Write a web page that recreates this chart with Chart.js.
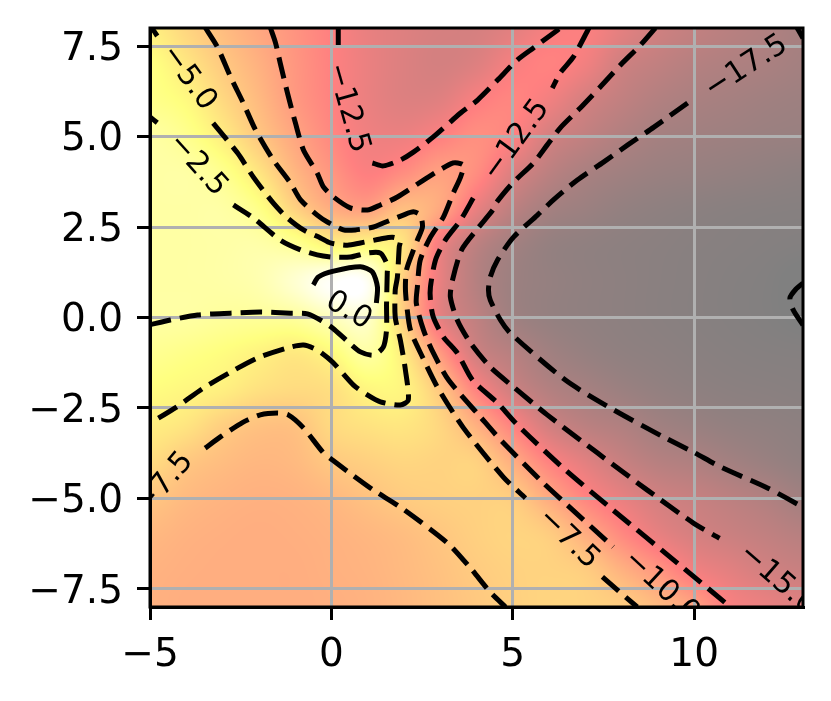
<!DOCTYPE html>
<html>
<head>
<meta charset="utf-8">
<title>Contour</title>
<script src="https://cdn.jsdelivr.net/npm/chart.js@4"></script>
<style>
  html, body { margin: 0; padding: 0; background: #fff; }
  canvas { display: block; }
</style>
</head>
<body>
<canvas id="chart" width="831" height="701"></canvas>
<script>
// axis ticks
const xTicks = [-5, 0, 5, 10];
const xTickLabels = ['−5', '0', '5', '10'];
const yTicks = [-7.5, -5, -2.5, 0, 2.5, 5, 7.5];
const yTickLabels = ['−7.5', '−5.0', '−2.5', '0.0', '2.5', '5.0', '7.5'];

// background field: rows y = 8..-8, columns x = -5..13
const fieldX = [-5, -4, -3, -2, -1, 0, 1, 2, 3, 4, 5, 6, 7, 8, 9, 10, 11, 12, 13];
const fieldY = [8, 7, 6, 5, 4, 3, 2, 1, 0, -1, -2, -3, -4, -5, -6, -7, -8];
const fieldZ = [
  [-5, -6.6, -8.2, -9.6, -10.9, -12.2, -13.5, -14.2, -14.7, -14.7, -13.9, -12.7, -12.4, -13.8, -15.1, -15.9, -16.5, -17, -17.6],
  [-3.8, -5.5, -7.4, -9, -10.7, -12.1, -13.4, -14.3, -14.8, -14.2, -12.7, -12, -13, -15.1, -16, -16.7, -17.1, -17.4, -17.8],
  [-3.5, -4.3, -6.4, -8.4, -10.5, -12, -13.4, -14.2, -14, -12.5, -11.8, -13, -14.8, -16, -16.9, -17.4, -17.7, -18, -18.2],
  [-2.45, -3.3, -5.1, -7.5, -9.7, -11.6, -13, -13.2, -12.2, -11.2, -12.2, -14.8, -16, -17, -17.7, -18, -18.2, -18.4, -18.5],
  [-2.4, -2.4, -3.3, -5.6, -8.6, -10.7, -12.3, -11.3, -10.1, -11.3, -14.3, -16.3, -17.4, -18, -18.4, -18.6, -18.8, -19, -19.2],
  [-2.4, -2.4, -2.4, -3.6, -6.8, -9.2, -10, -8.1, -9.6, -13.5, -16.2, -17.7, -18.3, -18.8, -19.1, -19.3, -19.45, -19.55, -19.6],
  [-2.4, -2.4, -2.3, -2.2, -3, -4.7, -4.4, -5.8, -13, -16.2, -17.8, -18.7, -19, -19.2, -19.35, -19.5, -19.6, -19.7, -19.8],
  [-2.4, -2.4, -2.3, -1.9, -0.5, 1.2, 0.9, -7.2, -13.5, -16.7, -18.2, -18.7, -19, -19.2, -19.4, -19.55, -19.7, -19.85, -20.2],
  [-2.45, -2.5, -2.8, -2.9, -2.7, -1.4, -0.8, -7.1, -13.6, -16.1, -18, -18.7, -19, -19.2, -19.4, -19.55, -19.7, -19.85, -20.1],
  [-3.2, -3.6, -4.1, -4.8, -5.4, -4.4, -2.5, -5.3, -10.4, -15, -16.6, -17.9, -18.6, -19, -19.2, -19.4, -19.55, -19.65, -19.7],
  [-4.1, -4.5, -5, -5.9, -6.3, -6, -4.6, -4.7, -7.6, -12, -15.1, -16.8, -17.6, -18.3, -18.8, -19.1, -19.3, -19.4, -19.5],
  [-5.1, -5.7, -7.1, -7.9, -7.9, -6.4, -5.8, -5.6, -6.6, -9, -12, -14.9, -16.3, -17, -17.9, -18.4, -18.8, -19, -19.2],
  [-6.2, -7.5, -8.2, -8.6, -8.4, -7.5, -7, -6.6, -6.8, -6.9, -9.2, -12, -13.9, -15.5, -16.6, -17.1, -17.8, -18.4, -18.9],
  [-7.6, -8.4, -8.8, -9, -8.9, -8.5, -7.9, -7.3, -7, -6.9, -7.2, -9.4, -11.8, -13.5, -14.9, -15.6, -16.3, -17, -17.9],
  [-8.5, -8.9, -9.1, -9.2, -9.1, -8.9, -8.6, -8.2, -7.6, -7, -6.7, -7.2, -9.2, -11.5, -13.5, -14.7, -15.4, -16, -16.6],
  [-8.9, -9.1, -9.2, -9.2, -9.2, -9, -8.8, -8.4, -7.9, -7.3, -6.9, -6.8, -7.2, -8.9, -10.7, -12.8, -13.9, -14.9, -15.5],
  [-9, -9.2, -9.2, -9.2, -9.2, -9.1, -8.9, -8.5, -8, -7.5, -7, -6.7, -6.8, -7.2, -8.4, -10, -12.5, -13.4, -14.2]
];

// colour scale for the field (value, r, g, b)
const colorStops = [
  [1.5, 255, 255, 255],
  [-3.96, 255, 255, 128],
  [-12.15, 255, 128, 128],
  [-20, 128, 128, 128]
];

// contour lines, [x, y] pairs, split where a label interrupts them
const level0 = [[-0.5, 0.9], [-0.36, 1.12], [0.06, 1.28], [0.8, 1.4], [1.13, 1.26], [1.27, 0.84], [1.24, 0.4]];
const level2_5a = [[-5, -0.2], [-4.44, -0.07], [-3.69, 0.07], [-2.78, 0.12], [-1.96, 0.15], [-1.13, 0.12], [-0.66, 0.1], [-0.25, -0.1], [0.03, -0.29], [0.47, -0.68], [0.8, -0.95], [1.16, -1.04], [1.43, -0.82], [1.52, -0.35], [1.52, 0.35], [1.54, 1.23], [1.54, 1.45], [1.35, 1.78], [0.99, 1.78], [0.52, 1.67], [0.03, 1.67], [-0.39, 1.73], [-0.85, 1.87], [-1.41, 2.14], [-2.15, 2.75], [-2.7, 3.11]];
const level2_5b = [[-5, 5.54], [-4.8, 5.38]];
const level5a = [[-3.26, 5.37], [-2.59, 4.55], [-2.15, 3.88], [-1.6, 3.16], [-1.21, 2.75], [-0.77, 2.42], [-0.3, 2.2], [-0.03, 2.06], [0.44, 2.0], [0.8, 2.06], [1.35, 2.17], [1.68, 2.22], [1.9, 2.14], [1.87, 1.95], [1.82, 1.12], [1.76, 0.76], [1.76, 0.01], [1.9, -0.62], [2.04, -1.45], [2.12, -2.28], [1.9, -2.42], [1.35, -2.33], [0.99, -2.14], [0.61, -1.87], [0.03, -1.23], [-0.39, -0.9], [-0.77, -0.76], [-1.21, -0.84], [-2.04, -1.12], [-2.78, -1.51], [-3.53, -1.95], [-4.26, -2.47], [-5, -2.92]];
const level5b = [[-5, 8], [-4.91, 7.94], [-4.8, 7.78]];
const level7_5a = [[-3.47, 8], [-3.14, 7.47], [-2.78, 6.65], [-2.43, 5.93], [-2.09, 5.18], [-1.6, 4.35], [-1.13, 3.72], [-0.85, 3.25], [-0.39, 2.83], [-0.11, 2.64], [0.33, 2.42], [0.66, 2.42], [1.16, 2.5], [1.43, 2.61], [1.98, 2.83], [2.26, 2.92], [2.45, 2.83], [2.51, 2.5], [2.37, 2.14], [2.23, 1.78], [2.07, 1.31], [2.04, 0.84], [2.07, 0.4], [2.18, -0.35], [2.51, -1.09], [2.92, -1.92], [3.64, -3.05], [4.74, -4.41], [5.35, -4.99]];
const level7_5b = [[7.47, -7.17], [8.43, -8]];
const level7_5c = [[-3.48, -3.61], [-3.06, -3.3], [-2.43, -2.89], [-1.96, -2.69], [-1.49, -2.64], [-1.19, -2.69], [-0.77, -3.05], [-0.22, -3.74], [0.03, -3.94], [0.47, -4.27], [1.16, -4.77], [1.9, -5.24], [3.2, -6.23], [3.83, -6.92], [4.38, -7.59], [4.8, -8]];
const level10a = [[-1.68, 8], [-1.54, 7.59], [-1.41, 7.03], [-1.21, 6.2], [-0.99, 5.37], [-0.77, 4.63], [-0.39, 3.99], [-0.22, 3.61], [0.06, 3.33], [0.52, 3.03], [0.99, 2.97], [1.35, 3.11], [1.82, 3.33], [2.67, 3.88], [3.36, 4.27], [3.64, 4.21], [3.56, 3.88], [3.36, 3.44], [3.09, 2.78], [2.73, 2.22], [2.45, 1.59], [2.37, 0.84], [2.34, 0.4], [2.54, -0.35], [2.81, -0.98], [3.23, -1.73], [4.11, -2.75], [4.66, -3.38], [5.84, -4.57], [6.5, -5.18], [7.77, -6.34]];
const level12_5a = [[0.19, 8], [0.19, 7.53]];
const level12_5b = [[1.13, 4.27], [1.43, 4.19], [1.9, 4.35], [2.26, 4.57], [2.81, 4.99], [3.56, 5.65], [4.03, 6.01], [4.58, 6.56], [5.13, 7.12], [5.57, 7.45], [6.23, 7.94], [6.31, 8]];
const level12_5c = [[7.1, 8], [6.67, 7.2], [6.31, 6.76], [6.09, 6.34]];
const level12_5d = [[3.91, 3.3], [3.56, 2.69], [3.14, 2.14], [2.87, 1.59], [2.73, 0.84], [2.73, 0.48], [2.81, 0.01], [3.09, -0.54], [3.47, -0.98], [3.89, -1.73], [4.58, -2.36], [5.13, -2.97], [6.39, -4.16], [7.69, -5.26], [9.7, -6.92], [11, -8]];
const level15 = [[8.93, 8], [8.52, 7.53], [7.97, 6.98], [7.41, 6.37], [6.86, 5.79], [6.31, 5.24], [5.95, 4.77], [5.57, 4.27], [5.0, 3.72], [4.56, 3.19], [4.45, 2.97], [4.0, 2.42], [3.59, 1.87], [3.34, 1.04], [3.28, 0.57], [3.47, -0.07], [3.83, -0.7], [4.38, -1.37], [5.02, -1.92], [5.95, -2.69], [7.33, -3.74], [8.71, -4.77], [9.98, -5.68], [10.7, -6.1]];
const level17_5a = [[9.82, 5.93], [8.89, 5.26], [8.17, 4.77], [7.51, 4.3], [6.78, 3.8], [6.12, 3.25], [5.68, 2.83], [5.02, 2.22], [4.58, 1.59], [4.38, 1.12], [4.33, 0.76], [4.38, 0.48], [4.66, -0.07], [4.93, -0.43], [6.45, -1.73], [7.69, -2.5], [9.15, -3.3], [9.98, -3.72], [10.73, -4.13], [12.02, -4.71], [13, -5.24]];
const level17_5b = [[12.84, 8], [13, 7.72]];
const level20 = [[13, 0.95], [12.81, 0.79], [12.64, 0.54], [12.73, 0.21], [13, -0.21]];

const dashedLines = [level2_5a, level2_5b, level5a, level5b, level7_5a, level7_5b, level7_5c, level10a,
  level12_5a, level12_5b, level12_5c, level12_5d, level15, level17_5a, level17_5b, level20];
const solidLines = [level0];

// contour labels
const labelTexts = ['−5.0', '−2.5', '−12.5', '−12.5', '0.0', '−7.5', '−10.0', '−17.5', '−15.0', '−7.5'];
const labelX = [-3.94, -3.69, 0.44, 5.1, 0.47, 6.53, 9.09, 11.44, 12.29, -4.6];
const labelY = [6.62, 4.21, 5.79, 4.9, 0.18, -6.12, -7.44, 6.92, -7.25, -4.6];
const labelAngles = [54, 48, 74, -54, 30, 44, 43, -33, 41, -50];

function fieldColor(z) {
  if (z >= colorStops[0][0]) return colorStops[0].slice(1);
  for (let i = 1; i < colorStops.length; i++) {
    const a = colorStops[i - 1], b = colorStops[i];
    if (z >= b[0]) {
      const t = (a[0] - z) / (a[0] - b[0]);
      return [a[1] + (b[1] - a[1]) * t, a[2] + (b[2] - a[2]) * t, a[3] + (b[3] - a[3]) * t];
    }
  }
  return colorStops[colorStops.length - 1].slice(1);
}

function cubic(a, b, c, d, t) {
  return b + 0.5 * t * (c - a + t * (2 * a - 5 * b + 4 * c - d + t * (3 * (b - c) + d - a)));
}

// smooth lookup between the read values, the same job imshow's interpolation does
function fieldAt(x, y) {
  const c = Math.min(Math.max(x - fieldX[0], 0), fieldX.length - 1.001);
  const r = Math.min(Math.max(fieldY[0] - y, 0), fieldY.length - 1.001);
  const c0 = Math.floor(c), r0 = Math.floor(r);
  const rows = [];
  for (let j = r0 - 1; j <= r0 + 2; j++) {
    const row = fieldZ[Math.min(Math.max(j, 0), fieldY.length - 1)];
    const at = i => row[Math.min(Math.max(i, 0), fieldX.length - 1)];
    rows.push(cubic(at(c0 - 1), at(c0), at(c0 + 1), at(c0 + 2), c - c0));
  }
  return cubic(rows[0], rows[1], rows[2], rows[3], r - r0);
}

// image under the grid lines, like imshow
const heatmapPlugin = {
  id: 'heatmap',
  beforeDraw(chart) {
    const area = chart.chartArea, ctx = chart.ctx;
    const left = Math.round(area.left), top = Math.round(area.top);
    const w = Math.round(area.right) - left, h = Math.round(area.bottom) - top;
    const img = ctx.createImageData(w, h);
    for (let j = 0; j < h; j++) {
      const y = chart.scales.y.getValueForPixel(top + j + 0.5);
      for (let i = 0; i < w; i++) {
        const x = chart.scales.x.getValueForPixel(left + i + 0.5);
        const col = fieldColor(fieldAt(x, y));
        const k = (j * w + i) * 4;
        img.data[k] = col[0];
        img.data[k + 1] = col[1];
        img.data[k + 2] = col[2];
        img.data[k + 3] = 255;
      }
    }
    ctx.putImageData(img, left, top);
  }
};

// contour labels and the box around the axes
const overlayPlugin = {
  id: 'overlay',
  afterDatasetsDraw(chart) {
    const area = chart.chartArea, ctx = chart.ctx;
    ctx.save();
    ctx.beginPath();
    ctx.rect(area.left, area.top, area.right - area.left, area.bottom - area.top);
    ctx.clip();
    ctx.fillStyle = '#000';
    ctx.font = '30px "DejaVu Sans"';
    ctx.textAlign = 'center';
    ctx.textBaseline = 'middle';
    labelTexts.forEach((text, i) => {
      ctx.save();
      ctx.translate(chart.scales.x.getPixelForValue(labelX[i]), chart.scales.y.getPixelForValue(labelY[i]));
      ctx.rotate(labelAngles[i] * Math.PI / 180);
      ctx.fillText(text, 0, 0);
      ctx.restore();
    });
    ctx.restore();
    ctx.strokeStyle = '#000';
    ctx.lineWidth = 3;
    ctx.strokeRect(area.left, area.top, area.right - area.left, area.bottom - area.top);
  }
};

function lineDataset(points, dash) {
  return {
    data: points.map(p => ({ x: p[0], y: p[1] })),
    showLine: true,
    borderColor: '#000',
    borderWidth: 5,
    borderDash: dash,
    pointRadius: 0,
    tension: 0.25
  };
}

const datasets = solidLines.map(l => lineDataset(l, []))
  .concat(dashedLines.map(l => lineDataset(l, [21.6, 9])));

function axisOptions(min, max, ticks, labels, fitSize, isX) {
  return {
    type: 'linear',
    min: min,
    max: max,
    afterBuildTicks(scale) { scale.ticks = ticks.map(v => ({ value: v })); },
    afterFit(scale) {
      // keep the plot box fixed, labels may hang over its ends
      scale.paddingTop = scale.paddingBottom = scale.paddingLeft = scale.paddingRight = 0;
      if (isX) scale.height = fitSize; else scale.width = fitSize;
    },
    ticks: {
      autoSkip: false,
      maxRotation: 0,
      color: '#000',
      padding: isX ? 12 : 14,
      // y labels sit a little low: an empty first line with a short line height pushes them down
      font: isX ? { family: '"DejaVu Sans"', size: 39 } : { family: '"DejaVu Sans"', size: 39, lineHeight: '7px' },
      callback(value) {
        const label = labels[ticks.indexOf(value)];
        return isX ? label : ['', label];
      }
    },
    grid: { color: '#b0b0b0', lineWidth: 3, tickColor: '#000', tickWidth: 3, tickLength: 13 },
    border: { color: '#000', width: 3 }
  };
}

new Chart(document.getElementById('chart').getContext('2d'), {
  type: 'scatter',
  data: { datasets: datasets },
  options: {
    responsive: false,
    animation: false,
    events: [],
    layout: { autoPadding: false, padding: { top: 28, right: 28, left: 0, bottom: 0 } },
    plugins: { legend: { display: false }, tooltip: { enabled: false } },
    scales: {
      x: axisOptions(-5, 13, xTicks, xTickLabels, 94, true),
      y: axisOptions(-8, 8, yTicks, yTickLabels, 150, false)
    }
  },
  plugins: [heatmapPlugin, overlayPlugin]
});
</script>
</body>
</html>
